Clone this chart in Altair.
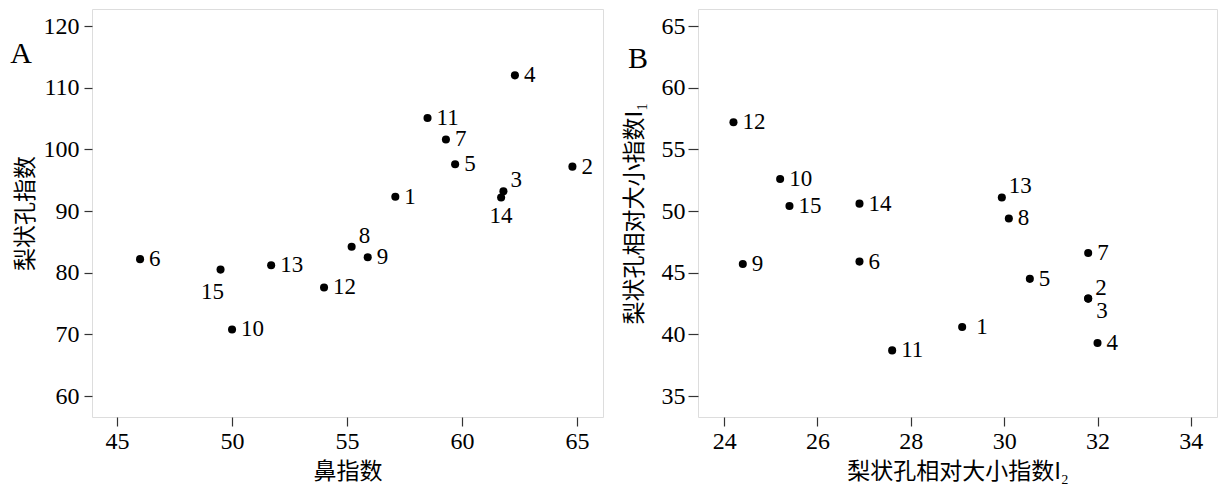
import altair as alt
import pandas as pd

# ---------------- data ----------------
ids = list(range(1, 16))

# Panel A: 鼻指数 (x) vs 梨状孔指数 (y)
nasal_index = [57.1, 64.8, 61.8, 62.3, 59.7, 46.0, 59.3, 55.2, 55.9, 50.0, 58.5, 54.0, 51.7, 61.7, 49.5]
pyriform_index = [92.3, 97.2, 93.2, 112.0, 97.6, 82.2, 101.6, 84.2, 82.5, 70.8, 105.1, 77.6, 81.2, 92.2, 80.5]
label_pos_a = ["r", "r", "ur", "r", "r", "r", "r", "ur", "r", "r", "r", "r", "r", "b", "bl"]

# Panel B: 梨状孔相对大小指数 I2 (x) vs I1 (y)
size_i2 = [29.1, 31.8, 31.8, 32.0, 30.55, 26.9, 31.8, 30.1, 24.4, 25.2, 27.6, 24.2, 29.95, 26.9, 25.4]
size_i1 = [40.6, 42.9, 42.9, 39.3, 44.5, 45.9, 46.6, 49.4, 45.7, 52.6, 38.7, 57.2, 51.1, 50.6, 50.4]
label_pos_b = ["rf", "ur", "dr", "r", "r", "r", "r", "r", "r", "r", "r", "r", "ur", "r", "r"]

ticks_a_x = [45, 50, 55, 60, 65]
ticks_a_y = [60, 70, 80, 90, 100, 110, 120]
ticks_b_x = [24, 26, 28, 30, 32, 34]
ticks_b_y = [35, 40, 45, 50, 55, 60, 65]

SERIF = "Liberation Serif"
CJK = "Noto Sans CJK SC"

OFFSETS = {
    "r": (9, 0, "left"),
    "rf": (14, 0, "left"),
    "ur": (7, -11, "left"),
    "dr": (8, 12, "left"),
    "b": (0, 19, "center"),
    "bl": (-8, 22, "center"),
}


def panel(xs, ys, pos, xdom, ydom, xticks, yticks, xtitle, ytitle, letter, lx, ly,
          w, h, y_tick, y_lpad, y_tpad):
    df = pd.DataFrame({"id": [str(i) for i in ids], "x": xs, "y": ys, "pos": pos})
    base = alt.Chart(df).encode(
        x=alt.X("x:Q",
                scale=alt.Scale(domain=xdom, nice=False, zero=False),
                axis=alt.Axis(values=xticks, title=xtitle, grid=False, domain=False,
                              tickSize=9, tickColor="#333", tickWidth=1.2,
                              labelFont=SERIF, labelFontSize=24, labelColor="black",
                              labelPadding=3, labelFlush=False,
                              titleFont=CJK, titleFontSize=23, titleFontWeight="normal",
                              titleColor="black", titlePadding=7)),
        y=alt.Y("y:Q",
                scale=alt.Scale(domain=ydom, nice=False, zero=False),
                axis=alt.Axis(values=yticks, title=ytitle, grid=False, domain=False,
                              tickSize=y_tick, tickColor="#333", tickWidth=1.2,
                              labelFont=SERIF, labelFontSize=24, labelColor="black",
                              labelPadding=y_lpad, labelFlush=False,
                              titleFont=CJK, titleFontSize=23, titleFontWeight="normal",
                              titleColor="black", titlePadding=y_tpad)),
    )
    layers = [base.mark_circle(size=65, color="black", opacity=1)]
    for key, (dx, dy, al) in OFFSETS.items():
        layers.append(
            base.transform_filter(alt.datum.pos == key)
            .mark_text(dx=dx, dy=dy, align=al, baseline="middle", font=SERIF,
                       fontSize=23, color="black")
            .encode(text="id:N")
        )
    letter_layer = alt.Chart(pd.DataFrame({"k": [0]})).mark_text(
        font=SERIF, fontSize=30, color="black", align="center", baseline="middle"
    ).encode(x=alt.value(lx), y=alt.value(ly), text=alt.value(letter))
    layers.append(letter_layer)
    return alt.layer(*layers).properties(width=w, height=h)


chart_a = panel(nasal_index, pyriform_index, label_pos_a, [43.91, 66.13], [56.6, 122.76],
                ticks_a_x, ticks_a_y, "鼻指数", "梨状孔指数", "A", -71, 45,
                511, 408, 8, 5, 6)
chart_b = panel(size_i2, size_i1, label_pos_b, [23.44, 34.56], [33.30, 66.38],
                ticks_b_x, ticks_b_y, "梨状孔相对大小指数I₂", "梨状孔相对大小指数I₁", "B", -60, 50,
                519, 408, 10, 3, 15)

chart = (
    alt.hconcat(chart_a, chart_b, spacing=18)
    .properties(padding={"left": 1, "top": 0, "right": 0, "bottom": 0})
    .configure_view(stroke="#707070", strokeWidth=1.5)
    .configure(background="white")
)

chart.save("out.html", embed_options={"renderer": "svg", "actions": False})
